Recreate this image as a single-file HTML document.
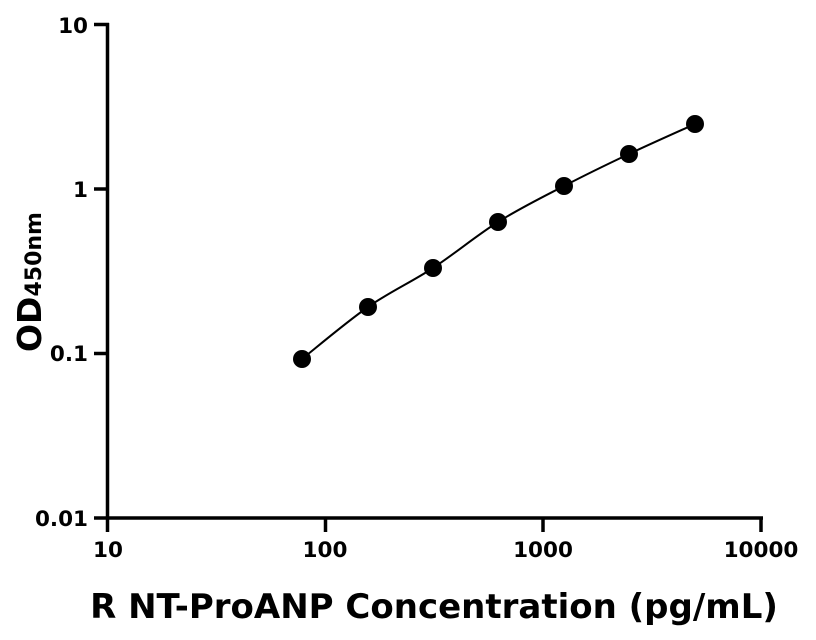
<!DOCTYPE html>
<html><head><meta charset="utf-8"><style>
html,body{margin:0;padding:0;background:#fff;}
svg{display:block;font-family:"DejaVu Sans","Liberation Sans",sans-serif;font-weight:bold;}
</style></head><body>
<svg width="816" height="640" viewBox="0 0 816 640" xmlns="http://www.w3.org/2000/svg">
<g stroke="#000" stroke-width="3.5" fill="none" stroke-linecap="butt">
<line x1="107.5" y1="23" x2="107.5" y2="519.5"/>
<line x1="106" y1="518" x2="763" y2="518"/>
<line x1="94" y1="24.5" x2="109" y2="24.5"/>
<line x1="94" y1="189" x2="109" y2="189"/>
<line x1="94" y1="353.5" x2="109" y2="353.5"/>
<line x1="94" y1="518" x2="109" y2="518"/>
<line x1="107.5" y1="518" x2="107.5" y2="532"/>
<line x1="325.5" y1="518" x2="325.5" y2="532"/>
<line x1="543" y1="518" x2="543" y2="532"/>
<line x1="761" y1="518" x2="761" y2="532"/>
</g>
<g font-size="21.5" text-anchor="end" fill="#000">
<text x="88" y="33">10</text>
<text x="88" y="197">1</text>
<text x="88" y="361">0.1</text>
<text x="88" y="526">0.01</text>
</g>
<g font-size="21.5" text-anchor="middle" fill="#000">
<text x="108" y="557">10</text>
<text x="325" y="557">100</text>
<text x="543" y="557">1000</text>
<text x="761" y="557">10000</text>
</g>
<text x="434" y="618" font-size="34" text-anchor="middle" fill="#000">R NT-ProANP Concentration (pg/mL)</text>
<text transform="translate(41,352) rotate(-90)" fill="#000"><tspan font-size="33">OD</tspan><tspan font-size="22">450nm</tspan></text>
<path d="M302,359 C313,350.3 346.2,322.2 368,307 C389.8,291.8 411.3,282.2 433,268 C454.7,253.8 476.2,235.7 498,222 C519.8,208.3 542.2,197.3 564,186 C585.8,174.7 607.2,164.3 629,154 C650.8,143.7 684,129 695,124" stroke="#000" stroke-width="2" fill="none"/>
<g fill="#000">
<circle cx="302" cy="359" r="9"/>
<circle cx="368" cy="307" r="9"/>
<circle cx="433" cy="268" r="9"/>
<circle cx="498" cy="222" r="9"/>
<circle cx="564" cy="186" r="9"/>
<circle cx="629" cy="154" r="9"/>
<circle cx="695" cy="124" r="9"/>
</g>
</svg>
</body></html>
